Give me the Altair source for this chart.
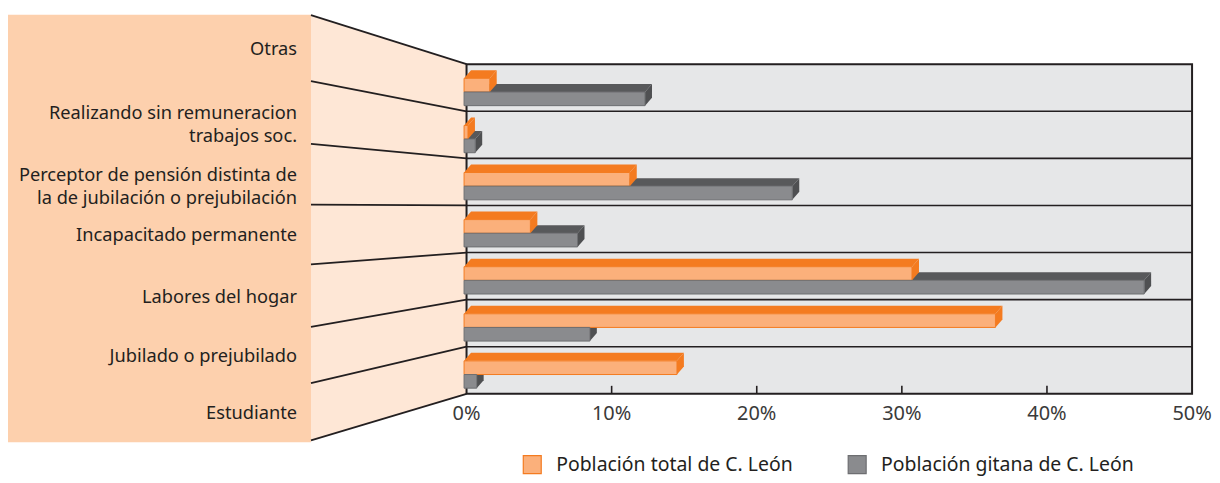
import altair as alt
import pandas as pd

# ---------------- data ----------------
categorias = [
    "Otras",
    "Realizando sin remuneracion\ntrabajos soc.",
    "Perceptor de pensión distinta de\nla de jubilación o prejubilación",
    "Incapacitado permanente",
    "Labores del hogar",
    "Jubilado o prejubilado",
    "Estudiante",
]
total = [1.6, 0.1, 11.25, 4.4, 30.7, 36.45, 14.5]
gitana = [12.3, 0.6, 22.45, 7.65, 46.7, 8.5, 0.7]
series = ["Población total de C. León", "Población gitana de C. León"]
tick_vals = [0, 10, 20, 30, 40, 50]
tick_labels = ["0%", "10%", "20%", "30%", "40%", "50%"]

# ---------------- layout constants ----------------
XMIN, XMAX = -31.6, 50
YMIN, YMAX = -1.05, 8.03
PANEL_R = -10.72          # right edge of label panel (in % units)
LEFT_B = [-1.04, 0.36, 1.69, 2.98, 4.25, 5.58, 6.77, 7.99]  # row bounds at panel edge
BAR0 = -0.17
DX, DY = 0.48, 0.17
OFF = {series[0]: 0.30, series[1]: 0.59}
BH = 0.29

C_PANEL = "#fdd0ad"
C_TRAP = "#fee7d6"
C_BG = "#e6e7e8"
C_LINE = "#231f20"
C_OR_FRONT, C_OR_TOP, C_OR_STROKE = "#fbb07b", "#f47b20", "#f47b20"
C_GR_FRONT, C_GR_TOP, C_GR_SIDE, C_GR_STROKE = "#8a8b8e", "#58595b", "#4f5052", "#6d6e71"
FONT = "Noto Sans"

xs = alt.Scale(domain=[XMIN, XMAX], nice=False, zero=False)
ys = alt.Scale(domain=[YMIN, YMAX], nice=False, zero=False, reverse=True)

# ---------------- tables ----------------
front, top, side = [], [], []
bid = 0
for i, cat in enumerate(categorias):
    for s, vals in zip(series, [total, gitana]):
        v = vals[i]
        yt = i + OFF[s]
        yb = yt + BH
        front.append(dict(serie=s, x0=BAR0, x1=v, yt=yt, yb=yb))
        top.append(dict(id=bid, serie=s, y=yt, xa=BAR0, xb=v))
        top.append(dict(id=bid, serie=s, y=yt - DY, xa=BAR0 + DX, xb=v + DX))
        side.append(dict(id=bid, serie=s, x=v, ya=yt, yb=yb))
        side.append(dict(id=bid, serie=s, x=v + DX, ya=yt - DY, yb=yb - DY))
        bid += 1
front = pd.DataFrame(front)
top = pd.DataFrame(top)
side = pd.DataFrame(side)

labels = pd.DataFrame(dict(
    cat=categorias,
    x=[PANEL_R] * len(categorias),
    y=[(LEFT_B[k] + LEFT_B[k + 1]) / 2 + 0.04 for k in range(len(categorias))],
))
persp = pd.DataFrame(dict(x=[PANEL_R] * 8, x2=[0] * 8, y=LEFT_B, y2=list(range(8))))
seps = pd.DataFrame(dict(y=list(range(1, 7)), xa=[0] * 6, xb=[50] * 6))
ticks = pd.DataFrame(dict(v=tick_vals, lab=tick_labels, ya=[7] * 6, yb=[7 - 0.17] * 6,
                          yl=[7.42] * 6))

X = lambda f: alt.X(f, scale=xs, axis=None)
Y = lambda f: alt.Y(f, scale=ys, axis=None)

panel = alt.Chart(pd.DataFrame(dict(a=[XMIN], b=[PANEL_R], c=[YMIN], d=[YMAX]))).mark_rect(
    color=C_PANEL).encode(x=X("a:Q"), x2="b:Q", y=Y("c:Q"), y2="d:Q")

trap = alt.Chart(pd.DataFrame(dict(x=[PANEL_R, 0], y=[LEFT_B[0], 0], y2=[LEFT_B[-1], 7]))).mark_area(
    color=C_TRAP, orient="vertical").encode(
    x=X("x:Q"), y=alt.Y("y:Q", scale=ys, axis=None, stack=None), y2="y2:Q")

bg = alt.Chart(pd.DataFrame(dict(a=[0], b=[50], c=[0], d=[7]))).mark_rect(
    fill=C_BG, stroke=C_LINE, strokeWidth=2).encode(x=X("a:Q"), x2="b:Q", y=Y("c:Q"), y2="d:Q")

sep_rules = alt.Chart(seps).mark_rule(color=C_LINE, strokeWidth=1.6).encode(
    x=X("xa:Q"), x2="xb:Q", y=Y("y:Q"))

persp_rules = alt.Chart(persp).mark_rule(color=C_LINE, strokeWidth=1.8).encode(
    x=X("x:Q"), x2="x2:Q", y=Y("y:Q"), y2="y2:Q")

tick_rules = alt.Chart(ticks[(ticks.v > 0) & (ticks.v < 50)]).mark_rule(
    color=C_LINE, strokeWidth=1.6).encode(
    x=X("v:Q"), y=Y("ya:Q"), y2="yb:Q")

tick_text = alt.Chart(ticks).mark_text(
    font=FONT, fontSize=20, color="#3a3a3a", baseline="middle", align="center").encode(
    x=X("v:Q"), y=Y("yl:Q"), text="lab:N")

cat_text = alt.Chart(labels).mark_text(
    font=FONT, fontSize=18.3, color=C_LINE, align="right", baseline="middle",
    lineBreak="\n", lineHeight=23, dx=-14).encode(
    x=X("x:Q"), y=Y("y:Q"), text="cat:N")


def top_layer(s, color):
    return alt.Chart(top[top.serie == s]).mark_area(orient="horizontal", color=color).encode(
        y=Y("y:Q"), x=alt.X("xa:Q", scale=xs, axis=None, stack=None), x2="xb:Q", detail="id:N")


def side_layer(s, color):
    return alt.Chart(side[side.serie == s]).mark_area(orient="vertical", color=color).encode(
        x=X("x:Q"), y=alt.Y("ya:Q", scale=ys, axis=None, stack=None), y2="yb:Q", detail="id:N")


legend = alt.Legend(
    title=None, orient="none", legendX=516, legendY=441, direction="horizontal",
    symbolType="square", symbolSize=324, symbolStrokeWidth=1.2, labelFont=FONT,
    labelFontSize=19.5, labelColor=C_LINE, labelOffset=14, columnPadding=52,
    labelLimit=0, symbolOpacity=1)

fronts = alt.Chart(front).mark_rect(strokeWidth=1).encode(
    x=X("x0:Q"), x2="x1:Q", y=Y("yt:Q"), y2="yb:Q",
    fill=alt.Fill("serie:N", scale=alt.Scale(domain=series, range=[C_OR_FRONT, C_GR_FRONT]), legend=legend),
    stroke=alt.Stroke("serie:N", scale=alt.Scale(domain=series, range=[C_OR_STROKE, C_GR_STROKE]), legend=legend),
)

chart = alt.layer(
    panel, trap, persp_rules, cat_text, bg, sep_rules, tick_rules, tick_text,
    top_layer(series[1], C_GR_TOP), side_layer(series[1], C_GR_SIDE),
    top_layer(series[0], C_OR_TOP), side_layer(series[0], C_OR_TOP),
    fronts,
).properties(
    width=1188, height=429,
    padding={"left": 0, "top": 5, "right": 0, "bottom": 0},
).configure_view(stroke=None)

chart.save("out.html", embed_options={"renderer": "svg", "actions": False})
